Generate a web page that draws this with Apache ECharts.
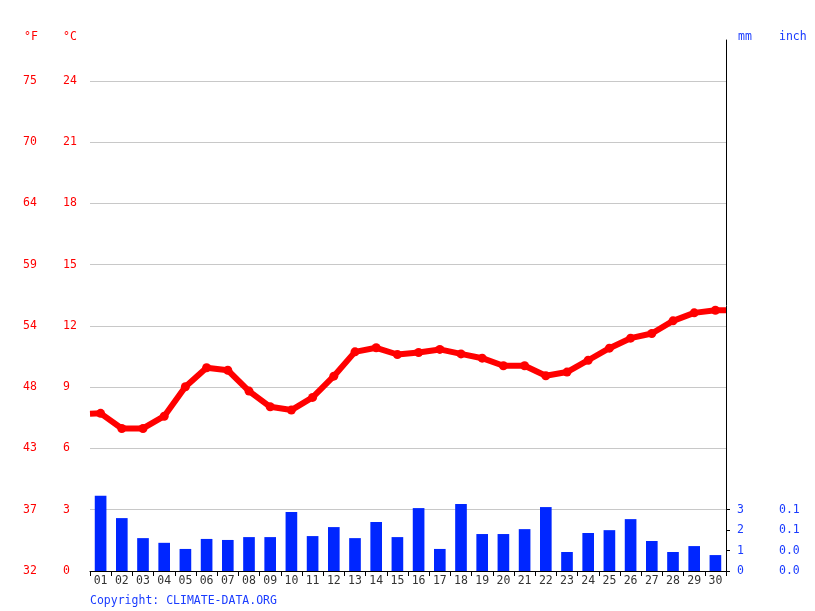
<!DOCTYPE html>
<html>
<head>
<meta charset="utf-8">
<script src="https://cdn.jsdelivr.net/npm/echarts@6/dist/echarts.min.js"></script>
<style>html,body{margin:0;padding:0;background:#fff}#c{width:815px;height:611px}</style>
</head>
<body>
<div id="c"></div>
<script>
const days = ['01','02','03','04','05','06','07','08','09','10','11','12','13','14','15','16','17','18','19','20','21','22','23','24','25','26','27','28','29','30'];
const tempC = [7.72,6.98,6.98,7.58,9.02,9.95,9.83,8.81,8.04,7.88,8.50,9.54,10.73,10.93,10.60,10.70,10.85,10.63,10.42,10.05,10.05,9.56,9.74,10.32,10.91,11.40,11.63,12.25,12.64,12.77];
const tempEdgeStart = 7.7;
const tempEdgeEnd = 12.77;
const precipMm = [3.68,2.59,1.61,1.38,1.08,1.57,1.52,1.66,1.66,2.89,1.71,2.15,1.61,2.40,1.66,3.08,1.08,3.28,1.81,1.81,2.05,3.13,0.93,1.86,2.0,2.54,1.47,0.93,1.22,0.78];
const mmTicks = [0,1,2,3];

const FONT = 'DejaVu Sans Mono';
const RED = '#ff0000';
const BLUE = '#1a3cff';

const lineData = [{value:[0.5, tempEdgeStart], symbolSize:0}];
tempC.forEach((v,i)=>lineData.push({value:[i+1, v]}));
lineData.push({value:[30.5, tempEdgeEnd], symbolSize:0});

const chart = echarts.init(document.getElementById('c'));
chart.setOption({
  animation:false,
  backgroundColor:'#fff',
  grid:{left:90, right:89, top:40, bottom:40, containLabel:false},
  graphic:[
    {type:'text', left:24, top:31, style:{text:'°F', fill:RED, font:'11.5px '+FONT}},
    {type:'text', left:63, top:31, style:{text:'°C', fill:RED, font:'11.5px '+FONT}},
    {type:'text', left:738, top:31, style:{text:'mm', fill:BLUE, font:'11.5px '+FONT}},
    {type:'text', left:779, top:31, style:{text:'inch', fill:BLUE, font:'11.5px '+FONT}},
    {type:'text', left:90, top:595, style:{text:'Copyright: CLIMATE-DATA.ORG', fill:BLUE, font:'11.5px '+FONT}}
  ],
  xAxis:[
    {type:'category', data:days, boundaryGap:true,
     axisLine:{lineStyle:{color:'#000', width:1}},
     axisTick:{show:true, length:5, lineStyle:{color:'#000'}},
     axisLabel:{color:'#333', fontFamily:FONT, fontSize:11.5, margin:4, interval:0},
     splitLine:{show:false}},
    {type:'value', min:0.5, max:30.5, show:false}
  ],
  yAxis:[
    {type:'value', min:0, max:26, interval:3, position:'left',
     axisLine:{show:false}, axisTick:{show:false},
     axisLabel:{color:RED, fontFamily:FONT, fontSize:11.5, align:'left', margin:27, showMaxLabel:false},
     splitLine:{show:true, showMaxLine:false, showMinLine:false, lineStyle:{color:'#c8c8c8', width:1}}},
    {type:'value', min:0, max:26, interval:3, position:'left',
     axisLine:{show:false}, axisTick:{show:false},
     axisLabel:{color:RED, fontFamily:FONT, fontSize:11.5, align:'left', margin:67, showMaxLabel:false,
       formatter:v=>String(Math.round(v*1.8+32))},
     splitLine:{show:false}},
    {type:'value', min:0, max:26, position:'right',
     axisLine:{show:true, onZero:false, lineStyle:{color:'#000', width:1}},
     axisTick:{show:true, length:4, customValues:mmTicks, lineStyle:{color:'#000'}},
     axisLabel:{color:BLUE, fontFamily:FONT, fontSize:11.5, margin:11, customValues:mmTicks},
     splitLine:{show:false}},
    {type:'value', min:0, max:26, position:'right',
     axisLine:{show:false}, axisTick:{show:false},
     axisLabel:{color:BLUE, fontFamily:FONT, fontSize:11.5, margin:53, customValues:mmTicks,
       formatter:v=>(v/25.4).toFixed(1)},
     splitLine:{show:false}}
  ],
  series:[
    {type:'bar', xAxisIndex:0, yAxisIndex:2, data:precipMm, barWidth:'55%',
     itemStyle:{color:'#0026ff'}, z:2},
    {type:'line', xAxisIndex:1, yAxisIndex:0, data:lineData,
     symbol:'circle', symbolSize:9, showSymbol:true,
     lineStyle:{color:RED, width:6}, itemStyle:{color:RED}, z:5}
  ]
});
</script>
</body>
</html>
